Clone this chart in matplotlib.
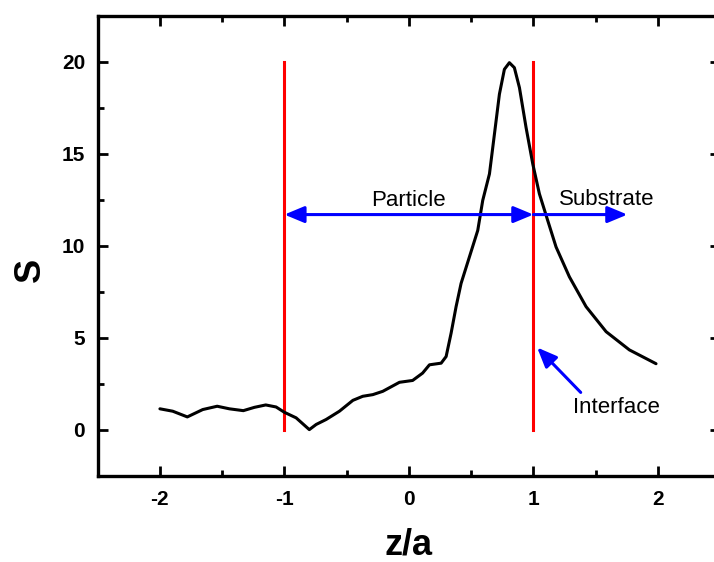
import matplotlib.pyplot as plt
from matplotlib.ticker import MultipleLocator

plt.rcParams['font.family'] = ['Liberation Sans', 'DejaVu Sans']
plt.rcParams['axes.unicode_minus'] = False

# order parameter profile S(z/a)
z = [-2.0, -1.897, -1.78, -1.656, -1.54, -1.442, -1.33, -1.241, -1.15, -1.067,
     -1.0, -0.906, -0.80, -0.745, -0.665, -0.558, -0.45, -0.371, -0.29, -0.21,
     -0.076, 0.03, 0.11, 0.165, 0.259, 0.299, 0.339, 0.379, 0.419, 0.486,
     0.553, 0.593, 0.647, 0.687, 0.727, 0.767, 0.807, 0.847, 0.888, 0.941,
     0.995, 1.048, 1.115, 1.182, 1.289, 1.423, 1.584, 1.771, 1.985]
S = [1.15, 1.02, 0.71, 1.11, 1.29, 1.15, 1.05, 1.23, 1.36, 1.25,
     0.96, 0.66, 0.02, 0.30, 0.57, 1.02, 1.61, 1.83, 1.92, 2.10,
     2.59, 2.69, 3.09, 3.54, 3.63, 3.99, 5.26, 6.70, 7.96, 9.40,
     10.84, 12.47, 13.91, 16.07, 18.24, 19.59, 19.95, 19.68, 18.59, 16.43,
     14.45, 12.83, 11.38, 9.94, 8.32, 6.70, 5.34, 4.35, 3.60]

interfaces = [-1, 1]
iface_top = 20
arrow_y = 11.7
substrate_end = 1.755

fig = plt.figure(figsize=(7.14, 5.62), dpi=100)
ax = fig.add_axes([0.1368, 0.153, 0.8718, 0.819])

for xi in interfaces:
    ax.plot([xi, xi], [0, iface_top], color='red', lw=2.2, zorder=2)

ax.plot(z, S, color='black', lw=2.2, zorder=3,
        solid_joinstyle='round', solid_capstyle='round')

# region arrows
arr = dict(color='blue', lw=2.2, shrinkA=0, shrinkB=0, mutation_scale=20)
ax.annotate('', xy=(interfaces[1], arrow_y), xytext=(interfaces[0], arrow_y),
            arrowprops=dict(arrowstyle='<|-|>,head_length=0.6,head_width=0.25', **arr), zorder=4)
ax.annotate('', xy=(substrate_end, arrow_y), xytext=(interfaces[1], arrow_y),
            arrowprops=dict(arrowstyle='-|>,head_length=0.6,head_width=0.25', **arr), zorder=4)
ax.annotate('', xy=(1.03, 4.48), xytext=(1.38, 2.04),
            arrowprops=dict(arrowstyle='-|>,head_length=0.6,head_width=0.25', **arr), zorder=4)

ax.text(0.0, 12.16, 'Particle', ha='center', va='baseline', fontsize=16)
ax.text(1.586, 12.23, 'Substrate', ha='center', va='baseline', fontsize=16)
ax.text(1.67, 0.93, 'Interface', ha='center', va='baseline', fontsize=16)

ax.set_xlim(-2.5, 2.5)
ax.set_ylim(-2.5, 22.5)
ax.xaxis.set_major_locator(MultipleLocator(1))
ax.xaxis.set_minor_locator(MultipleLocator(0.5))
ax.yaxis.set_minor_locator(MultipleLocator(2.5))
ax.set_yticks([0, 5, 10, 15, 20])
ax.tick_params(which='both', direction='in', top=True, right=True, width=2)
ax.tick_params(which='major', length=7)
ax.tick_params(which='minor', length=4)
ax.tick_params(axis='x', pad=10)
ax.tick_params(axis='y', pad=9)
for lab in ax.get_xticklabels() + ax.get_yticklabels():
    lab.set_fontsize(15)
    lab.set_fontweight('bold')
for sp in ax.spines.values():
    sp.set_linewidth(2.4)

ax.set_xlabel('z/a', fontsize=26, fontweight='bold')
ax.set_ylabel('S', fontsize=26, fontweight='bold')
ax.xaxis.set_label_coords(0.5, -0.112)
ax.yaxis.set_label_coords(-0.08, 0.4475)

fig.savefig('out.png', dpi=100)
